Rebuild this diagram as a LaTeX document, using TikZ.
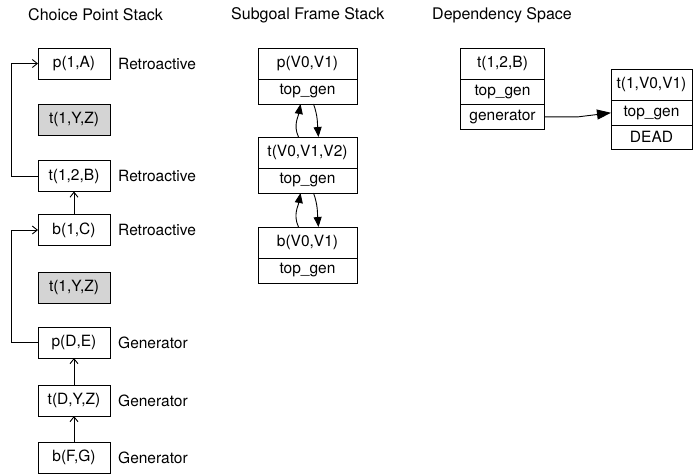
\documentclass[tikz,border=0pt]{standalone}
\usepackage{fontspec}
\setmainfont{TeX Gyre Heros}
\usetikzlibrary{positioning,arrows.meta}
\definecolor{shade}{gray}{0.83}

\begin{document}
\begin{tikzpicture}[x=1pt,y=-1pt,
  every node/.style={font=\fontsize{15.5}{18}\selectfont},
  head/.style={anchor=west,inner sep=0pt,font=\fontsize{16}{18}\selectfont},
  cell/.style={draw,line width=0.9pt,outer sep=0pt,inner sep=0pt,minimum height=31},
  cp/.style={cell,minimum width=72},
  sf/.style={cell,minimum width=99},
  row/.style={minimum height=25},
  tag/.style={anchor=west,inner sep=0pt},
  cparrow/.style={line width=0.9pt,-{Straight Barb[length=5pt,width=8pt]}},
  sfarrow/.style={line width=0.9pt,-{Triangle[length=10pt,width=8pt]}},
  deparrow/.style={line width=0.9pt,-{Triangle[length=14pt,width=10pt]}}]
  \useasboundingbox (0,0) rectangle (693,475);

  \node[head] at (28,15) {Choice Point Stack};
  \node[head] at (231,15) {Subgoal Frame Stack};
  \node[head] at (432,15) {Dependency Space};

  % choice point stack
  \node[cp] (pA) at (74,63.5) {p(1,A)};
  \node[cp,fill=shade] (tYZa) at (74,119.5) {t(1,Y,Z)};
  \node[cp] (tB) at (74,176) {t(1,2,B)};
  \node[cp] (bC) at (74,230) {b(1,C)};
  \node[cp,fill=shade] (tYZb) at (74,287.5) {t(1,Y,Z)};
  \node[cp] (pDE) at (74,342.5) {p(D,E)};
  \node[cp] (tDYZ) at (74,400.5) {t(D,Y,Z)};
  \node[cp] (bFG) at (74,457.5) {b(F,G)};

  \node[tag] at (118,63.5) {Retroactive};
  \node[tag] at (118,176) {Retroactive};
  \node[tag] at (118,230) {Retroactive};
  \node[tag] at (118,342.5) {Generator};
  \node[tag] at (118,400.5) {Generator};
  \node[tag] at (118,457.5) {Generator};

  \draw[cparrow] (tB.west) -- ++(-27,0) |- (pA.west);
  \draw[cparrow] (pDE.west) -- ++(-27,0) |- (bC.west);
  \draw[cparrow] (bC.north) -- (tB.south);
  \draw[cparrow] (tDYZ.north) -- (pDE.south);
  \draw[cparrow] (bFG.north) -- (tDYZ.south);

  % subgoal frame stack
  \node[sf] (pV) at (307.5,63.5) {p(V0,V1)};
  \node[sf,row,below=0pt of pV] (pVgen) {top\_gen};
  \node[sf] (tV) at (307.5,152.5) {t(V0,V1,V2)};
  \node[sf,row,below=0pt of tV] (tVgen) {top\_gen};
  \node[sf] (bV) at (307.5,242.5) {b(V0,V1)};
  \node[sf,row,below=0pt of bV] (bVgen) {top\_gen};

  \draw[sfarrow] ([xshift=-9]tV.north) to[out=115,in=-100] ([xshift=-7]pVgen.south);
  \draw[sfarrow] ([xshift=6]pVgen.south) to[out=-70,in=95] ([xshift=11]tV.north);
  \draw[sfarrow] ([xshift=-9]bV.north) to[out=115,in=-100] ([xshift=-7]tVgen.south);
  \draw[sfarrow] ([xshift=6]tVgen.south) to[out=-70,in=95] ([xshift=11]bV.north);

  % dependency space
  \node[cell,minimum width=84] (dB) at (502.5,63.8) {t(1,2,B)};
  \node[cell,row,minimum width=84,below=0pt of dB] (dBgen) {top\_gen};
  \node[cell,row,minimum width=84,below=0pt of dBgen] (dBg) {generator};
  \node[cell,minimum width=81] (dV) at (651.5,84.8) {t(1,V0,V1)};
  \node[cell,row,minimum width=81,below=0pt of dV] (dVgen) {top\_gen};
  \node[cell,row,minimum width=81,minimum height=24,below=0pt of dVgen] (dVdead) {DEAD};

  \draw[deparrow] (dBg.east) -- ++(34,0) -- (dVgen.west);
\end{tikzpicture}
\end{document}
